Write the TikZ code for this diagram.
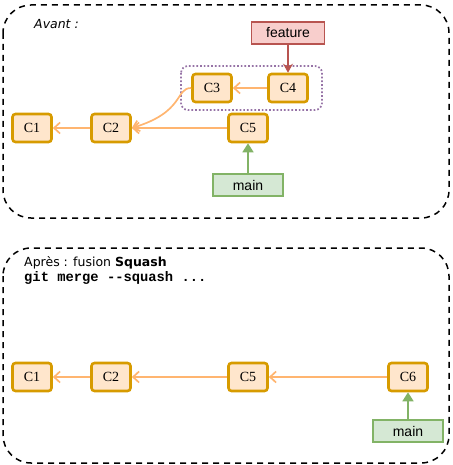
\documentclass[tikz,border=0pt]{standalone}
\usepackage{fontspec}
\setmainfont{Liberation Serif}
\newfontfamily\arialfont{Liberation Sans}
\newfontfamily\courfont{Liberation Mono}
\newfontfamily\comicfont{DejaVu Sans}
\usetikzlibrary{arrows.meta}
\definecolor{cfill}{HTML}{FFE6CC}
\definecolor{cdraw}{HTML}{D79B00}
\definecolor{carrow}{HTML}{FFB570}
\definecolor{ffill}{HTML}{F8CECC}
\definecolor{fdraw}{HTML}{B85450}
\definecolor{mfill}{HTML}{D5E8D4}
\definecolor{mdraw}{HTML}{82B366}
\definecolor{pdraw}{HTML}{9673A6}
\begin{document}
\begin{tikzpicture}[x=1pt,y=-1pt,
  commit/.style={draw=cdraw,fill=cfill,line width=2.6pt,rounded corners=3pt,minimum width=39pt,minimum height=28pt,inner sep=0pt,font=\fontsize{14}{14}\selectfont},
  carr/.style={draw=carrow,line width=1.7pt,-{Straight Barb[length=6pt,width=11pt]}},
  feat/.style={draw=fdraw,fill=ffill,line width=1.7pt,minimum width=73pt,minimum height=22pt,inner sep=0pt,font=\arialfont\fontsize{14}{14}\selectfont},
  mainb/.style={draw=mdraw,fill=mfill,line width=1.7pt,minimum width=70pt,minimum height=22pt,inner sep=0pt,font=\arialfont\fontsize{14}{14}\selectfont},
  frame/.style={draw=black,line width=1.5pt,dash pattern=on 6pt off 5pt,rounded corners=28pt},
]
\useasboundingbox (0,0) rectangle (452,465);
% frames
\draw[frame] (3,5) rectangle (449,218);
\draw[frame] (3,248) rectangle (449,463);
% top
\node[anchor=west,inner sep=0pt,font=\comicfont\fontsize{12.5}{12.5}\selectfont] (avant) at (34,24) {\itshape Avant :};
\draw[draw=pdraw,line width=1.7pt,dotted,rounded corners=7pt] (181,66) rectangle (322,110);
\node[commit] (c1) at (32,128) {C1};
\node[commit] (c2) at (111,128) {C2};
\node[commit] (c5) at (248,128) {C5};
\node[commit] (c3) at (212,88) {C3};
\node[commit] (c4) at (288,88) {C4};
\node[feat] (feature) at (288,33) {feature};
\node[mainb] (main) at (248,185) {main};
\draw[carr] (c2) -- (c1);
\draw[carr] (c5) -- (c2);
\draw[carr] (c4) -- (c3);
\draw[carr] (c3.west) .. controls (175,88) and (185,112) .. (c2.east);
\draw[draw=fdraw,line width=1.7pt,-{Stealth[length=9pt,width=10pt,inset=3pt]}] (feature) -- (c4);
\draw[draw=mdraw,line width=1.7pt,-{Triangle[length=9pt,width=11pt]}] (main) -- (c5);
% bottom
\node[anchor=north west,align=left,inner sep=0pt] (apres) at (24,256) {{\comicfont\fontsize{12.5}{13}\selectfont Après : fusion \textbf{Squash}}\\[2pt]{\courfont\bfseries\fontsize{13.8}{14}\selectfont git merge --squash ...}};
\node[commit] (d1) at (32,377) {C1};
\node[commit] (d2) at (111,377) {C2};
\node[commit] (d5) at (248,377) {C5};
\node[commit] (d6) at (408,377) {C6};
\node[mainb] (main2) at (408,431) {main};
\draw[carr] (d2) -- (d1);
\draw[carr] (d5) -- (d2);
\draw[carr] (d6) -- (d5);
\draw[draw=mdraw,line width=1.7pt,-{Triangle[length=9pt,width=11pt]}] (main2) -- (d6);
\end{tikzpicture}
\end{document}
